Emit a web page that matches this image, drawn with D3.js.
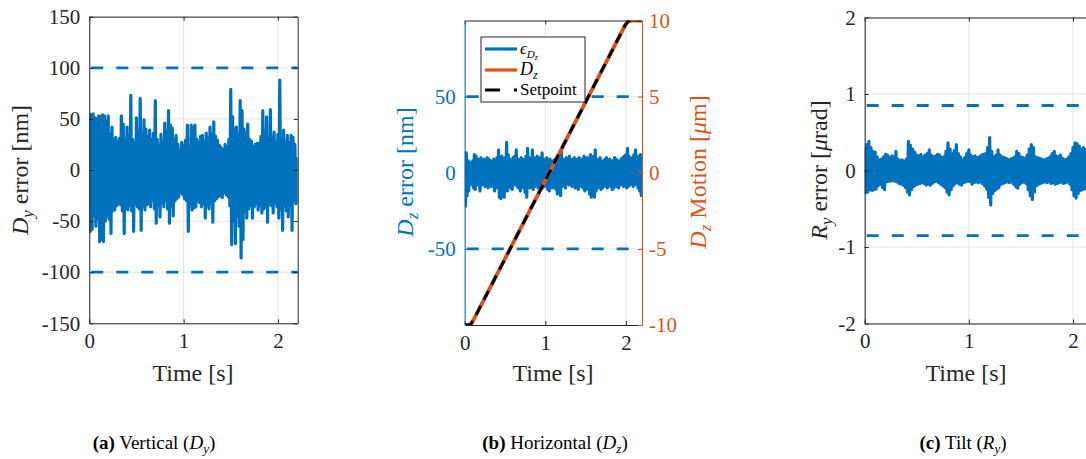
<!DOCTYPE html>
<html><head><meta charset="utf-8">
<script src="https://cdn.jsdelivr.net/npm/d3@7/dist/d3.min.js"></script>
<style>
body{margin:0;background:#fff}
svg{display:block}
text{font-family:"Liberation Serif","Times New Roman",serif !important}
</style>
</head><body>
<svg id="c" width="1086" height="459"></svg>
<script>
// ---------- data ----------
const timeStep = 0.02;             // s, sample spacing of the envelope readings
const xTicks = [0, 1, 2];

// (a) vertical error Dy [nm] : upper / lower envelope read per sample
const dyUpper = [56,54,55,51,50,53,52,54,53,48,53,35,42,30,32,28,31,53,45,30,42,33,73,30,26,51,38,70,35,49,40,33,39,30,36,68,30,24,35,28,46,38,58,44,41,30,34,25,20,27,24,29,44,22,44,42,44,30,27,33,34,28,36,31,42,35,47,33,29,24,22,20,25,23,30,79,52,40,42,35,68,58,40,36,45,30,28,23,25,26,26,33,58,38,52,30,59,32,37,28,35,88,30,39,28,34,27,34,32,25,11];
const dyLower = [-60,-58,-45,-55,-48,-70,-68,-70,-50,-45,-48,-62,-40,-39,-35,-33,-34,-40,-62,-38,-39,-35,-40,-60,-33,-36,-38,-59,-35,-39,-34,-33,-36,-30,-38,-52,-35,-46,-32,-36,-30,-38,-52,-35,-45,-30,-28,-26,-22,-24,-28,-30,-60,-33,-39,-37,-36,-30,-32,-36,-33,-47,-35,-38,-33,-51,-30,-28,-26,-25,-27,-22,-24,-26,-35,-73,-50,-72,-45,-55,-86,-68,-40,-47,-38,-35,-47,-36,-33,-39,-35,-42,-38,-36,-51,-33,-35,-42,-32,-36,-47,-38,-59,-35,-40,-46,-35,-59,-30,-33,-33];
const dyLimits = [100, -100];
const dyTicks = [-150, -100, -50, 0, 50, 100, 150];

// (b) horizontal error Dz [nm]
const dzUpper = [14,13,8,7,6,8,12,11,9,8,10,7,9,8,10,9,8,7,9,8,10,15,9,11,8,10,20,12,9,8,10,11,15,9,8,10,9,8,11,16,10,9,15,10,8,11,9,10,13,9,8,10,8,9,7,8,9,10,8,11,15,9,8,10,9,11,8,9,10,8,9,10,7,9,11,8,10,9,12,10,11,15,9,8,10,7,8,9,10,8,9,7,8,10,9,8,7,9,10,11,12,16,11,9,10,12,15,11,10,12,11];
const dzLower = [-22,-15,-12,-8,-6,-10,-11,-8,-7,-12,-8,-6,-9,-7,-10,-8,-9,-7,-12,-10,-9,-16,-17,-12,-16,-9,-12,-8,-10,-11,-8,-7,-9,-10,-12,-8,-10,-13,-16,-9,-10,-8,-11,-9,-8,-10,-9,-8,-10,-9,-8,-11,-12,-8,-10,-9,-11,-14,-12,-15,-9,-8,-10,-7,-8,-6,-9,-8,-10,-9,-11,-8,-9,-10,-12,-11,-9,-14,-16,-13,-16,-12,-10,-9,-11,-10,-8,-9,-10,-8,-9,-11,-10,-8,-9,-10,-8,-7,-9,-8,-10,-9,-8,-7,-9,-8,-7,-10,-12,-15,-13];
const dzLimits = [50, -50];
const dzErrTicks = [-50, 0, 50];
// (b) motion Dz [um] and setpoint
const motionTime = [0, 0.05, 0.08, 0.11, 0.563, 1.535, 1.99, 2.03, 2.06, 2.2];
const motionDz = [-10, -10, -9.92, -9.66, -5, 5, 9.68, 9.95, 10, 10];
const setpointDz = [-10, -10, -9.92, -9.66, -5, 5, 9.68, 9.95, 10, 10];
const motionTicks = [-10, -5, 0, 5, 10];

// (c) tilt error Ry [urad]
const ryUpper = [0.30,0.34,0.38,0.30,0.25,0.24,0.18,0.14,0.15,0.18,0.21,0.20,0.17,0.19,0.18,0.25,0.15,0.13,0.14,0.12,0.15,0.38,0.33,0.28,0.24,0.20,0.19,0.21,0.18,0.20,0.22,0.27,0.20,0.18,0.19,0.21,0.20,0.17,0.18,0.25,0.36,0.28,0.22,0.26,0.34,0.22,0.18,0.14,0.17,0.22,0.27,0.20,0.18,0.19,0.17,0.18,0.20,0.21,0.22,0.30,0.43,0.25,0.18,0.20,0.27,0.20,0.18,0.17,0.16,0.14,0.15,0.16,0.18,0.25,0.22,0.18,0.17,0.16,0.20,0.28,0.34,0.30,0.18,0.17,0.16,0.15,0.14,0.15,0.16,0.18,0.22,0.25,0.19,0.18,0.20,0.16,0.14,0.15,0.18,0.22,0.30,0.36,0.35,0.32,0.28,0.30,0.27,0.24,0.22,0.25,0.20];
const ryLower = [-0.29,-0.28,-0.25,-0.26,-0.25,-0.24,-0.20,-0.18,-0.22,-0.25,-0.15,-0.14,-0.14,-0.13,-0.14,-0.15,-0.17,-0.18,-0.19,-0.22,-0.28,-0.32,-0.25,-0.21,-0.19,-0.18,-0.17,-0.16,-0.17,-0.19,-0.18,-0.19,-0.17,-0.15,-0.14,-0.16,-0.18,-0.20,-0.22,-0.28,-0.32,-0.25,-0.20,-0.17,-0.16,-0.18,-0.19,-0.16,-0.15,-0.14,-0.14,-0.18,-0.16,-0.15,-0.16,-0.15,-0.17,-0.20,-0.24,-0.35,-0.45,-0.30,-0.26,-0.24,-0.22,-0.18,-0.17,-0.16,-0.15,-0.16,-0.15,-0.18,-0.21,-0.23,-0.18,-0.16,-0.15,-0.17,-0.25,-0.33,-0.38,-0.28,-0.20,-0.18,-0.17,-0.16,-0.15,-0.16,-0.15,-0.17,-0.16,-0.18,-0.17,-0.16,-0.15,-0.17,-0.16,-0.15,-0.18,-0.25,-0.33,-0.36,-0.30,-0.26,-0.25,-0.24,-0.22,-0.20,-0.22,-0.21,-0.20];
const ryLimits = [0.85, -0.85];
const ryTicks = [-2, -1, 0, 1, 2];

// ---------- styles ----------
const BLUE = "#0072BD", ORANGE = "#D95319", AX = "#262626", GRID = "#e3e3e3";
const TICKFS = 21, LABFS = 24;
const FONT = '"Liberation Serif","Times New Roman",serif';
const fmt = d => String(d);

const svg = d3.select("#c");
svg.append("rect").attr("width",1086).attr("height",459).attr("fill","#fff");

function envelope(up, lo) {
  const pts = [];
  up.forEach((u, i) => {
    const t = i * timeStep;
    pts.push([t, u]);
    pts.push([t + timeStep / 2, lo[i]]);
  });
  return pts;
}

let clipId = 0;
function panel(o) {
  const g = svg.append("g");
  const x = d3.scaleLinear().domain(o.xDomain).range(o.xRange);
  const y = d3.scaleLinear().domain(o.yDomain).range([o.yRange[1], o.yRange[0]]);
  const [x0, x1] = o.xRange, [y0, y1] = o.yRange;
  const id = "clip" + (clipId++);
  svg.append("clipPath").attr("id", id).append("rect")
    .attr("x", x0).attr("y", y0).attr("width", x1 - x0).attr("height", y1 - y0);
  const grid = g.append("g").attr("stroke", GRID).attr("stroke-width", 1);
  xTicks.forEach(t => grid.append("line").attr("x1", x(t)).attr("x2", x(t)).attr("y1", y0).attr("y2", y1));
  o.gridY.forEach(v => grid.append("line").attr("x1", x0).attr("x2", x1).attr("y1", y(v)).attr("y2", y(v)));
  const plot = g.append("g").attr("clip-path", `url(#${id})`);
  o.limits.forEach(v => plot.append("line").attr("x1", x0).attr("x2", x1).attr("y1", y(v)).attr("y2", y(v))
    .attr("stroke", BLUE).attr("stroke-width", 2.8).attr("stroke-dasharray", "12,13").attr("stroke-dashoffset", -2));
  const line = d3.line().x(d => x(d[0])).y(d => y(d[1]));
  plot.append("path").datum(envelope(o.up, o.lo)).attr("d", line)
    .attr("fill", "none").attr("stroke", BLUE).attr("stroke-width", 3.2).attr("stroke-linejoin", "round");
  return {g, x, y, plot, x0, x1, y0, y1};
}

function styleText(sel, color) {
  sel.attr("fill", color).attr("font-size", TICKFS).style("font-family", FONT);
}

function addAxes(p, o) {
  const {g, x, y, x0, x1, y0, y1} = p;
  const bottom = g.append("g").attr("transform", `translate(0,${y1})`)
    .call(d3.axisBottom(x).tickValues(xTicks).tickFormat(fmt).tickSize(-4).tickSizeOuter(0).tickPadding(10));
  const top = g.append("g").attr("transform", `translate(0,${y0})`)
    .call(d3.axisTop(x).tickValues(xTicks).tickFormat("").tickSize(-4).tickSizeOuter(0));
  [bottom, top].forEach(a => { a.selectAll("path,line").attr("stroke", AX); });
  styleText(bottom.selectAll("text"), AX);
  const lc = o.leftColor || AX;
  const left = g.append("g").attr("transform", `translate(${x0},0)`)
    .call(d3.axisLeft(y).tickValues(o.leftTicks).tickFormat(fmt).tickSize(-4).tickSizeOuter(0).tickPadding(9));
  left.selectAll("path,line").attr("stroke", lc);
  styleText(left.selectAll("text"), lc);
  if (!o.noRight) {
    const right = g.append("g").attr("transform", `translate(${x1},0)`)
      .call(d3.axisRight(y).tickValues(o.leftTicks).tickFormat("").tickSize(-4).tickSizeOuter(0));
    right.selectAll("path,line").attr("stroke", AX);
  }
}

function richText(parent, parts, attrs) {
  const t = parent.append("text").style("font-family", FONT);
  Object.entries(attrs).forEach(([k, v]) => t.attr(k, v));
  let shift = 0;
  parts.forEach(pt => {
    const s = t.append("tspan").text(pt.t);
    if (pt.i) s.attr("font-style", "italic");
    if (pt.b) s.attr("font-weight", "bold");
    if (pt.fs) s.attr("font-size", pt.fs);
    const want = pt.dy || 0;
    if (want !== shift) { s.attr("dy", want - shift); shift = want; }
  });
  return t;
}

// ---------- panel (a) ----------
const pa = panel({xDomain:[0,2.21], xRange:[89.3,297.7], yDomain:[-150,150], yRange:[16.7,323.3],
  gridY: dyTicks, limits: dyLimits, up: dyUpper, lo: dyLower});
addAxes(pa, {leftTicks: dyTicks});
richText(svg, [{t:"D",i:1},{t:"y",i:1,fs:17,dy:5},{t:" error [nm]",dy:0}],
  {transform:"translate(28,170) rotate(-90)", "text-anchor":"middle", "font-size":LABFS, fill:AX});
richText(svg, [{t:"Time [s]"}], {x:193, y:381, "text-anchor":"middle", "font-size":LABFS, fill:AX});

// ---------- panel (b) ----------
const pb = panel({xDomain:[0,2.2], xRange:[464.7,642], yDomain:[-100,100], yRange:[20.5,325],
  gridY: dzErrTicks, limits: dzLimits, up: dzUpper, lo: dzLower});
const yM = d3.scaleLinear().domain([-10,10]).range([325,20.5]);
const mLine = d3.line().x((d,i) => pb.x(motionTime[i])).y(d => yM(d));
pb.plot.append("path").datum(motionDz).attr("d", mLine).attr("fill","none")
  .attr("stroke", ORANGE).attr("stroke-width", 3.8);
pb.plot.append("path").datum(setpointDz).attr("d", mLine).attr("fill","none")
  .attr("stroke", "#000").attr("stroke-width", 3).attr("stroke-dasharray","10,7");
addAxes(pb, {leftTicks: dzErrTicks, leftColor: BLUE, noRight: true});
const rAx = pb.g.append("g").attr("transform", `translate(${pb.x1},0)`)
  .call(d3.axisRight(yM).tickValues(motionTicks).tickFormat(fmt).tickSize(-4).tickSizeOuter(0).tickPadding(7));
rAx.selectAll("path,line").attr("stroke", ORANGE);
styleText(rAx.selectAll("text"), ORANGE);
richText(svg, [{t:"D",i:1},{t:"z",i:1,fs:17,dy:5},{t:" error [nm]",dy:0}],
  {transform:"translate(413,172) rotate(-90)", "text-anchor":"middle", "font-size":LABFS, fill:BLUE});
richText(svg, [{t:"D",i:1},{t:"z",i:1,fs:17,dy:5},{t:" Motion [",dy:0},{t:"μ",i:1},{t:"m]"}],
  {transform:"translate(706,172) rotate(-90)", "text-anchor":"middle", "font-size":LABFS, fill:ORANGE});
richText(svg, [{t:"Time [s]"}], {x:553, y:381, "text-anchor":"middle", "font-size":LABFS, fill:AX});
// legend
const lg = svg.append("g");
lg.append("rect").attr("x",481).attr("y",37).attr("width",104).attr("height",65)
  .attr("fill","#fff").attr("stroke",AX).attr("stroke-width",1);
const legendItems = [
  {c:BLUE, dash:null, y:49, parts:[{t:"ϵ",i:1},{t:"D",i:1,fs:11,dy:4},{t:"z",i:1,fs:8,dy:6}]},
  {c:ORANGE, dash:null, y:70, parts:[{t:"D",i:1,fs:18},{t:"z",i:1,fs:12,dy:4}]},
  {c:"#000", dash:"15,14", y:90, parts:[{t:"Setpoint"}]}
];
legendItems.forEach(it => {
  lg.append("line").attr("x1",485).attr("x2",517).attr("y1",it.y).attr("y2",it.y)
    .attr("stroke",it.c).attr("stroke-width",3.2).attr("stroke-dasharray",it.dash);
  richText(lg, it.parts, {x:520, y:it.y+5, "font-size":17, fill:"#000"});
});

// ---------- panel (c) ----------
const pc = panel({xDomain:[0,2.2], xRange:[864.7,1093.8], yDomain:[-2,2], yRange:[17.5,323.5],
  gridY: ryTicks, limits: ryLimits, up: ryUpper, lo: ryLower});
addAxes(pc, {leftTicks: ryTicks});
richText(svg, [{t:"R",i:1},{t:"y",i:1,fs:17,dy:5},{t:" error [",dy:0},{t:"μ",i:1},{t:"rad]"}],
  {transform:"translate(827,170) rotate(-90)", "text-anchor":"middle", "font-size":LABFS, fill:AX});
richText(svg, [{t:"Time [s]"}], {x:966, y:381, "text-anchor":"middle", "font-size":LABFS, fill:AX});

// ---------- captions ----------
const caps = [
  {x:154, parts:[{t:"(a)",b:1},{t:" Vertical ("},{t:"D",i:1},{t:"y",i:1,fs:13,dy:4},{t:")",dy:0}]},
  {x:555, parts:[{t:"(b)",b:1},{t:" Horizontal ("},{t:"D",i:1},{t:"z",i:1,fs:13,dy:4},{t:")",dy:0}]},
  {x:963, parts:[{t:"(c)",b:1},{t:" Tilt ("},{t:"R",i:1},{t:"y",i:1,fs:13,dy:4},{t:")",dy:0}]}
];
caps.forEach(c => richText(svg, c.parts, {x:c.x, y:449, "text-anchor":"middle", "font-size":19, fill:"#000"}));
</script>
</body></html>
